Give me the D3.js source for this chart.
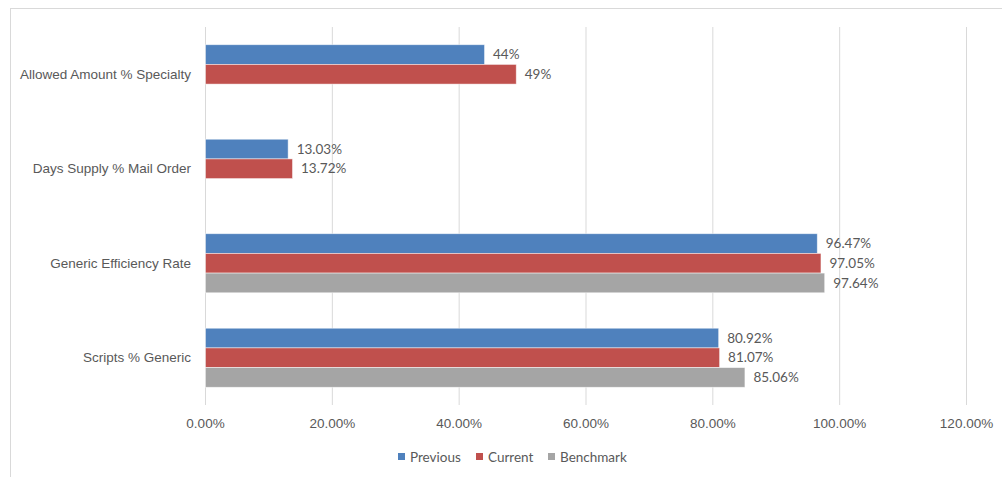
<!DOCTYPE html>
<html>
<head>
<meta charset="utf-8">
<script src="https://cdn.jsdelivr.net/npm/d3@7"></script>
<style>
  body { margin: 0; background: #fff; }
  svg { display: block; font-family: Lato, "Open Sans", sans-serif; }
</style>
</head>
<body>
<svg id="chart" width="1002" height="477"></svg>
<script>
// chart data
const categories = ["Allowed Amount % Specialty", "Days Supply % Mail Order", "Generic Efficiency Rate", "Scripts % Generic"];
const seriesNames = ["Previous", "Current", "Benchmark"];
const previous = [0.44, 0.1303, 0.9647, 0.8092];
const current = [0.49, 0.1372, 0.9705, 0.8107];
const benchmark = [null, null, 0.9764, 0.8506];
const previousLabels = ["44%", "13.03%", "96.47%", "80.92%"];
const currentLabels = ["49%", "13.72%", "97.05%", "81.07%"];
const benchmarkLabels = [null, null, "97.64%", "85.06%"];
const xTicks = [0, 0.2, 0.4, 0.6, 0.8, 1.0, 1.2];

const colors = ["#4F81BD", "#C0504D", "#A5A5A5"];
const textColor = "#595959";
const fontSize = "13.5px";

const svg = d3.select("#chart");
const margin = { left: 205, right: 36, top: 27, bottom: 72 };
const width = 1002, height = 477;

// outer chart border
svg.append("rect")
  .attr("x", 10.5).attr("y", 8.5)
  .attr("width", 1000).attr("height", 480)
  .attr("fill", "none").attr("stroke", "#d9d9d9");

const x = d3.scaleLinear()
  .domain([0, 1.2])
  .range([margin.left, width - margin.right]);

const y = d3.scaleBand()
  .domain(categories)
  .range([margin.top, height - margin.bottom]);

const inner = d3.scaleBand()
  .domain(seriesNames)
  .range([0, y.bandwidth()])
  .paddingOuter(0.9);

// gridlines
svg.append("g")
  .selectAll("line")
  .data(xTicks)
  .join("line")
  .attr("x1", d => x(d) + 0.5).attr("x2", d => x(d) + 0.5)
  .attr("y1", margin.top).attr("y2", height - margin.bottom)
  .attr("stroke", "#d9d9d9").attr("stroke-width", 1);

// x axis labels
const xAxis = svg.append("g")
  .attr("transform", `translate(0,${height - margin.bottom})`)
  .call(d3.axisBottom(x).tickValues(xTicks).tickFormat(d3.format(".2%")).tickSize(0).tickPadding(13));
xAxis.select(".domain").remove();
xAxis.selectAll("text").attr("fill", textColor).style("font-size", fontSize);

// y axis labels
const yAxis = svg.append("g")
  .attr("transform", `translate(${margin.left},0)`)
  .call(d3.axisLeft(y).tickSize(0).tickPadding(14));
yAxis.select(".domain").remove();
yAxis.selectAll("text").attr("fill", textColor).style("font-size", fontSize);

const series = [
  { name: "Previous", values: previous, labels: previousLabels },
  { name: "Current", values: current, labels: currentLabels },
  { name: "Benchmark", values: benchmark, labels: benchmarkLabels }
];

series.forEach((s, si) => {
  const rows = categories.map((c, i) => ({ cat: c, v: s.values[i], label: s.labels[i] }))
    .filter(d => d.v !== null);
  const g = svg.append("g");
  g.selectAll("rect")
    .data(rows)
    .join("rect")
    .attr("x", x(0) + 0.5)
    .attr("y", d => y(d.cat) + inner(s.name))
    .attr("width", d => x(d.v) - x(0))
    .attr("height", inner.bandwidth())
    .attr("fill", colors[si])
    .attr("stroke", "#ffffff").attr("stroke-opacity", 0.6).attr("stroke-width", 0.8);
  g.selectAll("text")
    .data(rows)
    .join("text")
    .attr("x", d => x(d.v) + 9)
    .attr("y", d => y(d.cat) + inner(s.name) + inner.bandwidth() / 2)
    .attr("dy", "0.35em")
    .attr("fill", textColor)
    .style("font-size", fontSize)
    .text(d => d.label);
});

// legend
const legendX = [398, 476, 548];
const legend = svg.append("g");
seriesNames.forEach((n, i) => {
  legend.append("rect")
    .attr("x", legendX[i]).attr("y", 453)
    .attr("width", 7).attr("height", 7)
    .attr("fill", colors[i]);
  legend.append("text")
    .attr("x", legendX[i] + 12).attr("y", 457)
    .attr("dy", "0.35em")
    .attr("fill", textColor)
    .style("font-size", fontSize)
    .text(n);
});
</script>
</body>
</html>
